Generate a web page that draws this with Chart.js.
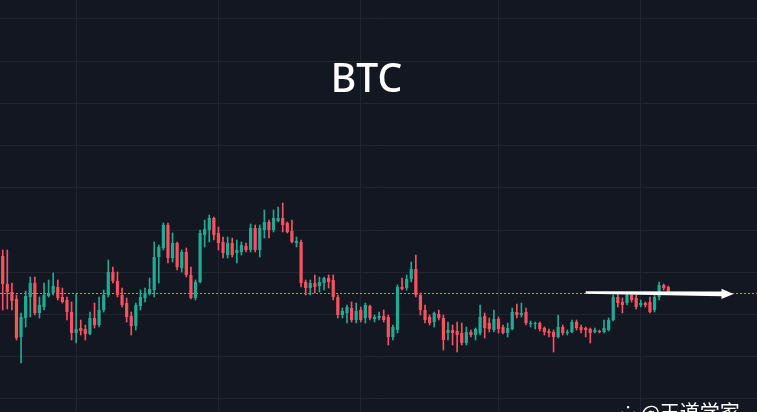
<!DOCTYPE html>
<html>
<head>
<meta charset="utf-8">
<script src="https://cdn.jsdelivr.net/npm/chart.js@4.4.1/dist/chart.umd.min.js"></script>
<style>
  html, body { margin: 0; padding: 0; background: #131722; overflow: hidden; }
  #wrap { position: relative; width: 757px; height: 412px; overflow: hidden; }
  canvas { display: block; }
  #title {
    position: absolute; left: 0; width: 733px; top: 57px;
    text-align: center; color: #ffffff;
    font-family: "Noto Sans", "Open Sans", sans-serif; font-size: 39px; font-weight: 500;
    line-height: 39px;
  }
  #mark {
    position: absolute; left: 620px; top: 402px; color: #ffffff;
    font-family: "Noto Sans CJK SC", "Noto Sans", sans-serif; font-size: 20px; line-height: 20px;
    white-space: nowrap;
  }
</style>
</head>
<body>
<div id="wrap">
  <canvas id="c" width="757" height="412"></canvas>
  <div id="title">BTC</div>
  <div id="mark">⁘ @王道学家</div>
</div>
<script>
// ---- data (arbitrary price units) ----
const opens  = [156,128,120,113,75,94,115,129,99,105,116,119,125,115,112,100,79,84,83,78,94,87,102,117,140,131,117,109,96,86,106,114,118,122,155,164,187,154,169,144,160,137,114,130,177,182,194,179,170,157,169,159,160,166,162,184,162,182,190,182,191,194,189,181,169,170,130,124,129,126,129,134,132,115,97,99,104,92,102,94,106,93,94,96,95,75,82,125,124,133,143,117,102,95,90,98,94,79,82,81,79,69,80,77,79,96,89,82,93,85,79,83,100,97,100,88,88,89,84,81,80,75,85,79,80,90,85,84,83,80,81,80,82,92,115,110,109,117,114,107,109,110,102,115,127,125];
const highs  = [162,162,129,117,99,121,135,135,115,129,132,139,132,124,115,110,118,92,87,100,109,115,122,152,145,140,124,114,100,109,122,124,134,170,167,189,189,179,170,162,164,145,132,182,192,197,195,185,175,175,174,172,170,169,188,187,187,202,192,202,205,209,190,192,175,172,132,132,137,135,135,137,137,117,104,107,110,109,105,109,107,97,100,102,97,87,127,134,137,150,157,119,107,97,100,102,97,90,87,90,89,85,82,84,107,99,94,102,95,87,89,104,108,109,104,91,90,90,85,83,82,97,87,82,92,92,87,85,84,84,82,92,94,117,119,114,120,119,117,112,110,115,119,130,128,126];
const lows   = [102,103,102,72,49,85,95,97,94,102,115,117,112,109,92,72,69,77,72,77,84,85,100,115,129,115,105,90,77,82,102,110,117,115,129,162,149,150,142,140,135,113,112,129,165,170,172,162,154,154,155,149,157,160,160,160,155,174,174,180,190,180,179,169,165,125,117,117,119,120,122,124,112,94,94,89,90,89,90,89,92,90,92,90,67,72,79,122,122,130,115,97,89,87,85,92,62,72,67,60,67,67,75,72,77,74,80,80,79,78,75,82,94,95,87,85,83,81,77,75,60,74,77,77,79,82,79,75,69,79,79,79,81,91,105,99,107,110,103,105,105,99,100,112,122,119];
const closes = [128,120,111,74,95,116,129,99,107,117,119,126,114,110,100,79,83,81,78,94,87,102,117,140,131,117,107,95,86,107,115,119,123,155,165,187,154,169,145,160,137,114,130,179,183,194,177,169,159,169,157,162,167,162,184,162,184,190,182,194,194,187,180,170,171,129,124,129,125,130,134,130,115,97,101,105,92,101,92,107,94,95,96,92,75,85,125,123,133,143,117,102,92,89,99,94,72,82,79,77,69,80,77,83,95,84,83,93,83,79,84,100,97,99,89,89,89,83,80,79,75,85,79,80,90,84,82,82,79,82,80,84,92,115,109,107,117,112,105,109,107,100,115,127,124,120];

// candle positions (one per bar, in trading order)
const candleIdx = opens.map((_, i) => i);

// grid / reference levels
const xGridTicks = [16, 47, 78, 108, 139];
const yGridTicks = [13.2, 55.4, 97.6, 139.8, 182, 224.2, 266.4, 308.6, 350.8, 393];
const refLevel = 119.5;                       // dotted reference price
const arrowFrom = { idx: 127, price: 119.5 };  // trend arrow
const arrowTo   = { idx: 159.2, price: 118 };

const UP = '#22ab94', DOWN = '#f7525f';
const colors = candleIdx.map(i => closes[i] >= opens[i] ? UP : DOWN);

const overlay = {
  id: 'overlay',
  beforeDatasetsDraw(chart) {
    const { ctx, chartArea, scales: { y } } = chart;
    const yy = Math.round(y.getPixelForValue(refLevel)) + 0.5;
    ctx.save();
    ctx.strokeStyle = '#f7727b';
    ctx.lineWidth = 1;
    ctx.setLineDash([2, 2]);
    ctx.beginPath();
    ctx.moveTo(chartArea.left, yy);
    ctx.lineTo(chartArea.right, yy);
    ctx.stroke();
    ctx.restore();
  },
  afterDatasetsDraw(chart) {
    const { ctx, scales: { x, y } } = chart;
    const x0 = x.getPixelForValue(arrowFrom.idx), y0 = y.getPixelForValue(arrowFrom.price);
    const x1 = x.getPixelForValue(arrowTo.idx),   y1 = y.getPixelForValue(arrowTo.price);
    const len = Math.hypot(x1 - x0, y1 - y0);
    const dx = (x1 - x0) / len, dy = (y1 - y0) / len;
    const nx = -dy, ny = dx;
    const headLen = 12, headW = 5.2, w0 = 1.2, w1 = 2.4;
    const bx = x1 - dx * headLen, by = y1 - dy * headLen;
    ctx.save();
    ctx.fillStyle = '#ffffff';
    ctx.beginPath();
    ctx.moveTo(x0 + nx * w0, y0 + ny * w0);
    ctx.lineTo(bx + nx * w1, by + ny * w1);
    ctx.lineTo(bx + nx * headW, by + ny * headW);
    ctx.lineTo(x1, y1);
    ctx.lineTo(bx - nx * headW, by - ny * headW);
    ctx.lineTo(bx - nx * w1, by - ny * w1);
    ctx.lineTo(x0 - nx * w0, y0 - ny * w0);
    ctx.closePath();
    ctx.fill();
    ctx.restore();
  }
};

new Chart(document.getElementById('c'), {
  type: 'bar',
  data: {
    datasets: [
      {
        label: 'body',
        data: candleIdx.map(i => ({ x: i, y: [opens[i], closes[i]] })),
        backgroundColor: colors,
        borderWidth: 0,
        grouped: false,
        categoryPercentage: 1,
        barPercentage: 0.7
      },
      {
        label: 'wick',
        data: candleIdx.map(i => ({ x: i, y: [lows[i], highs[i]] })),
        backgroundColor: colors,
        borderWidth: 0,
        grouped: false,
        barThickness: 1
      }
    ]
  },
  options: {
    responsive: false,
    animation: false,
    devicePixelRatio: 1,
    layout: { padding: 0 },
    plugins: { legend: { display: false }, tooltip: { enabled: false }, title: { display: false } },
    scales: {
      x: {
        type: 'linear',
        min: -0.59, max: 164.32,
        offset: false,
        afterBuildTicks: s => { s.ticks = xGridTicks.map(v => ({ value: v })); },
        ticks: { display: false },
        border: { display: false },
        grid: { color: '#212533', lineWidth: 1, drawTicks: false, offset: false }
      },
      y: {
        type: 'linear',
        min: 0, max: 412,
        afterBuildTicks: s => { s.ticks = yGridTicks.map(v => ({ value: v })); },
        ticks: { display: false },
        border: { display: false },
        grid: { color: '#212533', lineWidth: 1, drawTicks: false }
      }
    }
  },
  plugins: [overlay]
});
</script>
</body>
</html>
